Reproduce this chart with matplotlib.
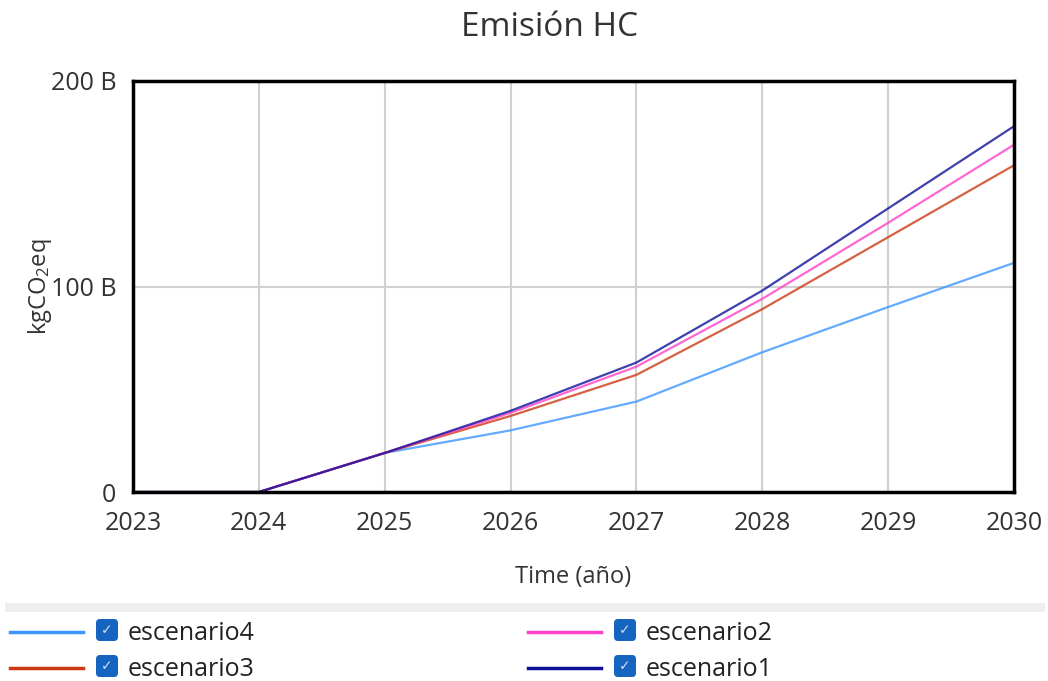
import matplotlib.pyplot as plt
from matplotlib.lines import Line2D
from matplotlib.patches import FancyBboxPatch, Rectangle
from matplotlib.ticker import FuncFormatter

plt.rcParams['font.family'] = ['Open Sans', 'DejaVu Sans']
plt.rcParams['mathtext.fontset'] = 'custom'
plt.rcParams['mathtext.rm'] = 'Open Sans'
plt.rcParams['mathtext.it'] = 'Open Sans'

# datos (miles de millones de kgCO2eq)
anios = [2023, 2024, 2025, 2026, 2027, 2028, 2029, 2030]
escenario4 = [0, 0, 19, 30, 44, 68, 90, 111.5]
escenario3 = [0, 0, 19, 37, 57, 89, 124, 159]
escenario2 = [0, 0, 19, 38.5, 61, 94, 131, 169]
escenario1 = [0, 0, 19, 39.5, 63, 98, 138, 178]

nombres = ['escenario4', 'escenario3', 'escenario2', 'escenario1']
series = [escenario4, escenario3, escenario2, escenario1]
colores = ['#3d96ff', '#cc3a14', '#ff40c8', '#10109a']

W, H = 1048, 681
fig = plt.figure(figsize=(W / 100, H / 100), dpi=100)
ax = fig.add_axes([133 / W, 1 - 492 / H, (1014 - 133) / W, (492 - 81) / H])

for nombre, s, c in zip(nombres, series, colores):
    ax.plot(anios, [v * 1e9 for v in s], color=c, lw=1.6, alpha=0.8, label=nombre)

ax.set_xlim(2023, 2030)
ax.set_ylim(0, 200e9)
ax.set_xticks(anios)
ax.set_yticks([0, 100e9, 200e9])
ax.yaxis.set_major_formatter(FuncFormatter(lambda v, p: '0' if v == 0 else '%d B' % (v / 1e9)))
ax.grid(True, color='#d0d0d0', lw=1.5)
ax.set_axisbelow(True)
for sp in ax.spines.values():
    sp.set_linewidth(2.5)
    sp.set_color('black')
ax.tick_params(length=0, labelsize=18, colors='#333333')
ax.tick_params(axis='x', pad=14)
ax.tick_params(axis='y', pad=12)

fig.text(573 / W, 1 - 577 / H, 'Time (año)', fontsize=17, color='#333333', ha='center', va='center')
fig.text(40 / W, 1 - 287 / H, 'kgCO$_2$eq', rotation=90, fontsize=17, color='#333333',
         ha='center', va='center')
fig.text(550 / W, 1 - 28 / H, 'Emisión HC', fontsize=24, color='#333333', ha='center', va='center')

# leyenda
fig.patches.append(Rectangle((5 / W, 1 - 612 / H), 1040 / W, 9 / H, transform=fig.transFigure,
                             color='#eeeeee', lw=0))
posiciones = [(10, 632), (10, 668), (528, 632), (528, 668)]
for (x0, y0), nombre, c in zip(posiciones, nombres, colores):
    fig.lines.append(Line2D([x0 / W, (x0 + 73) / W], [1 - y0 / H, 1 - y0 / H],
                            transform=fig.transFigure, color=c, lw=2.5))
    fig.patches.append(FancyBboxPatch((x0 + 86, H - y0 - 9), 22, 22,
                                      boxstyle='round,pad=0,rounding_size=4',
                                      transform=None, color='#1565c0', lw=0))
    fig.text((x0 + 97) / W, 1 - (y0 - 2) / H, '✓', fontsize=10, color='#cfe0f5',
             ha='center', va='center', family='DejaVu Sans')
    fig.text((x0 + 118) / W, 1 - (y0 + 2) / H, nombre, fontsize=18, color='#222222',
             ha='left', va='center')

fig.savefig('out.png', dpi=100)
